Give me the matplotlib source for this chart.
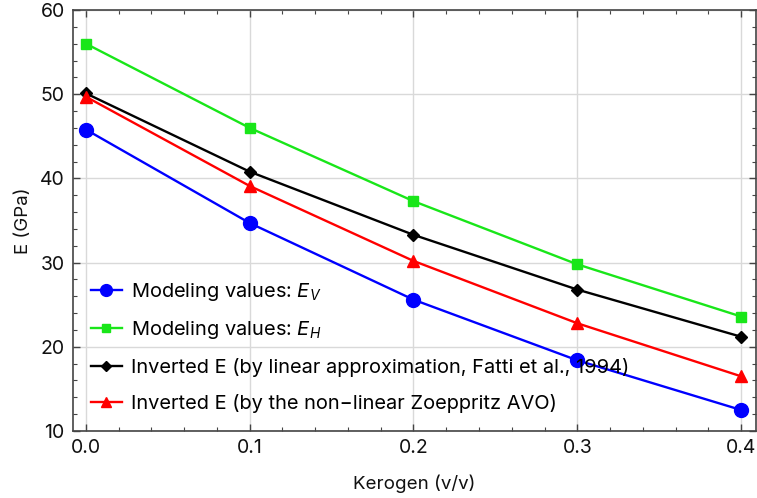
import numpy as np
import matplotlib
matplotlib.use('Agg')
import matplotlib.pyplot as plt
from matplotlib.ticker import MultipleLocator

plt.rcParams['font.family'] = ['Inter', 'DejaVu Sans']
plt.rcParams['mathtext.fontset'] = 'custom'
plt.rcParams['mathtext.it'] = 'Inter:italic'
plt.rcParams['mathtext.rm'] = 'Inter'

# kerogen volume fraction and Young's modulus (GPa)
kerogen = [0.0, 0.1, 0.2, 0.3, 0.4]
e_v = [45.8, 34.7, 25.6, 18.4, 12.5]
e_h = [56.0, 46.0, 37.3, 29.8, 23.6]
e_linear = [50.1, 40.8, 33.3, 26.8, 21.2]
e_zoeppritz = [49.7, 39.1, 30.2, 22.8, 16.5]
tick_labels = ['0.0', '0.1', '0.2', '0.3', '0.4']

labels = [r'Modeling values: $E_V$',
          r'Modeling values: $E_H$',
          'Inverted E (by linear approximation, Fatti et al., 1994)',
          'Inverted E (by the non\u2212linear Zoeppritz AVO)']

fig = plt.figure(figsize=(7.57, 4.98), dpi=100)
ax = fig.add_axes([0.0964, 0.1345, 0.902, 0.8454])

ax.plot(kerogen, e_v, color='#0000ff', lw=1.7, marker='o', ms=10, label=labels[0])
ax.plot(kerogen, e_h, color='#19e619', lw=1.7, marker='s', ms=7, label=labels[1])
ax.plot(kerogen, e_linear, color='black', lw=1.7, marker='D', ms=6.5, label=labels[2])
ax.plot(kerogen, e_zoeppritz, color='#ff0000', lw=1.7, marker='^', ms=9, label=labels[3])

ax.set_xlim(-0.0079, 0.409)
ax.set_ylim(10, 60)
ax.set_xticks(kerogen)
ax.set_xticklabels(tick_labels)
ax.xaxis.set_minor_locator(MultipleLocator(0.02))
ax.yaxis.set_major_locator(MultipleLocator(10))
ax.yaxis.set_minor_locator(MultipleLocator(2))

ax.grid(True, which='major', color='#d9d9d9', lw=1.0)
ax.set_axisbelow(True)
for s in ax.spines.values():
    s.set_color('#444444')
    s.set_linewidth(1.2)
ax.tick_params(which='both', direction='in', top=True, right=True,
               color='#444444', labelsize=14, labelcolor='#111111')
ax.tick_params(which='major', length=5, width=1)
ax.tick_params(which='minor', length=3, width=0.8)
ax.tick_params(axis='x', pad=6)
ax.tick_params(axis='y', pad=6)

ax.set_xlabel('Kerogen (v/v)', fontsize=13.5, labelpad=12, color='#111111')
ax.set_ylabel('E (GPa)', fontsize=13.5, labelpad=6, color='#111111')

ax.legend(loc='lower left', bbox_to_anchor=(0.0, 0.0), frameon=False,
          fontsize=14.4, handlelength=1.55, labelspacing=0.84, markerscale=0.85,
          borderaxespad=0.5, handletextpad=0.45)

fig.savefig('out.png', dpi=100)
